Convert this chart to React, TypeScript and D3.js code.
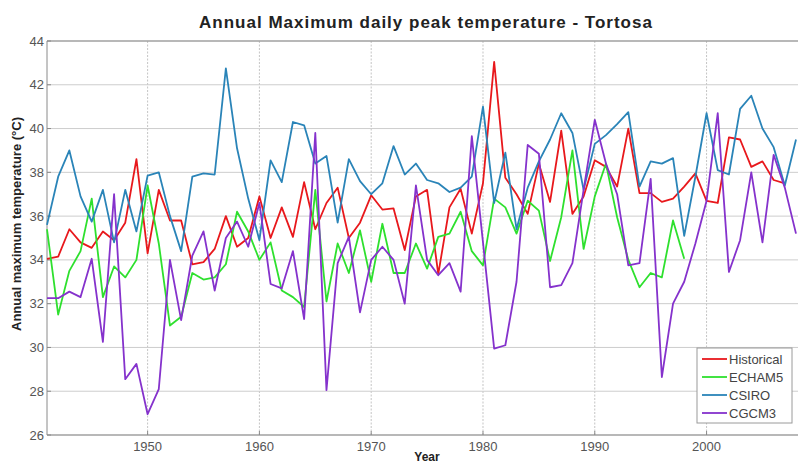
import React from 'react';
import * as d3 from 'd3';

const startYear = 1941;
const historical = [
  34.05, 34.15, 35.4, 34.8, 34.55, 35.3, 34.9, 35.7, 38.6, 34.3,
  37.2, 35.8, 35.8, 33.8, 33.9, 34.5, 36.0, 34.6, 35.0, 36.9,
  35.0, 36.4, 35.05, 37.55, 35.4, 36.6, 37.3, 35.0, 35.7, 36.95,
  36.3, 36.35, 34.45, 36.9, 37.2, 33.35, 36.4, 37.25, 35.2, 37.5,
  43.05, 37.75, 37.0, 36.1, 38.4, 36.65, 39.9, 36.1, 36.9, 38.55,
  38.25, 37.35, 40.0, 37.05, 37.05, 36.65, 36.8, 37.35, 37.95, 36.7,
  36.6, 39.6, 39.5, 38.25, 38.5, 37.65, 37.5
];
const echam5 = [
  35.4, 31.5, 33.5, 34.4, 36.8, 32.3, 33.7, 33.2, 34.0, 37.4,
  34.75, 31.0, 31.4, 33.4, 33.1, 33.2, 33.8, 36.2, 35.3, 34.0,
  34.8, 32.6, 32.3, 31.85, 37.2, 32.1, 34.75, 33.4, 35.35, 33.0,
  35.65, 33.4, 33.4, 34.75, 33.6, 35.05, 35.2, 36.2, 34.4, 33.75,
  36.8, 36.4, 35.2, 36.7, 36.25, 33.95, 35.95, 39.0, 34.5, 36.9,
  38.4, 35.95, 34.0, 32.75, 33.4, 33.2, 35.8, 34.05
];
const csiro = [
  35.6, 37.8, 39.0, 36.9, 35.75, 37.2, 34.8, 37.2, 35.3, 37.85,
  38.0, 36.0, 34.4, 37.8, 37.95, 37.9, 42.75, 39.1, 36.8, 34.9,
  38.55, 37.55, 40.3, 40.15, 38.4, 38.75, 35.7, 38.6, 37.6, 37.0,
  37.5, 39.2, 37.9, 38.4, 37.65, 37.5, 37.1, 37.3, 37.8, 41.0,
  36.6, 38.9, 35.4, 37.3, 38.5, 39.5, 40.7, 39.8, 37.2, 39.3,
  39.7, 40.2, 40.75, 37.35, 38.5, 38.4, 38.65, 35.1, 37.8, 40.7,
  38.1, 37.9, 40.9, 41.5, 40.0, 39.15, 37.4, 39.5
];
const cgcm3 = [
  32.25, 32.25, 32.55, 32.3, 34.05, 30.25, 37.0, 28.55, 29.25, 26.95,
  28.1, 34.0, 31.25, 34.2, 35.3, 32.6, 35.0, 35.75, 34.6, 36.6,
  32.9, 32.7, 34.4, 31.3, 39.8, 28.05, 33.85, 35.05, 31.6, 34.0,
  34.6, 34.0, 32.0, 37.4, 34.0, 33.3, 33.85, 32.55, 39.65, 34.8,
  29.95, 30.1, 33.0, 39.25, 38.85, 32.75, 32.85, 33.85, 37.2, 40.4,
  38.4, 37.0, 33.75, 33.85, 37.7, 28.65, 32.0, 33.0, 34.75, 36.7,
  40.7, 33.45, 34.9, 38.0, 34.8, 38.8, 37.3, 35.2
];

const seriesNames = ['Historical', 'ECHAM5', 'CSIRO', 'CGCM3'];
const seriesValues = [historical, echam5, csiro, cgcm3];
const seriesColors = ['#e8181c', '#2ee02e', '#2a84b8', '#8532cc'];
const xTicks = [1950, 1960, 1970, 1980, 1990, 2000];
const yTicks = [26, 28, 30, 32, 34, 36, 38, 40, 42, 44];

const W = 798;
const H = 463;
const font = '"Liberation Sans", Arial, sans-serif';

export default function App() {
  const x = d3.scaleLinear().domain([1941, 2008]).range([47, 796]);
  const y = d3.scaleLinear().domain([26, 44]).range([435, 41]);
  const line = d3
    .line<number>()
    .x((_, i) => x(startYear + i))
    .y(d => y(d));

  const [x0, x1] = x.range();
  const [y0, y1] = y.range();

  return (
    <svg
      width={W}
      height={H}
      style={{ position: 'absolute', left: 0, top: 0, background: '#fff' }}
      fontFamily={font}
    >
      <rect x={0} y={0} width={W} height={H} fill="#fff" />

      {/* grid */}
      {xTicks.map(t => (
        <line key={'gx' + t} x1={x(t)} x2={x(t)} y1={y1} y2={y0}
          stroke="#c4c4c4" strokeWidth={1} strokeDasharray="2,1.5" />
      ))}
      {yTicks.map(t => (
        <line key={'gy' + t} x1={x0} x2={x1 + 4} y1={y(t)} y2={y(t)}
          stroke="#cdcdcd" strokeWidth={1} />
      ))}

      {/* axes box */}
      <line x1={x0} x2={x1 + 4} y1={y1} y2={y1} stroke="#8a8a8a" />
      <line x1={x0} x2={x1 + 4} y1={y0} y2={y0} stroke="#8a8a8a" />
      <line x1={x0} x2={x0} y1={y1} y2={y0} stroke="#8a8a8a" />

      {yTicks.map(t => (
        <g key={'ty' + t}>
          <line x1={x0} x2={x0 + 4} y1={y(t)} y2={y(t)} stroke="#8a8a8a" />
          <text x={44} y={y(t)} dy="0.35em" textAnchor="end" fontSize={13} fill="#555">
            {t}
          </text>
        </g>
      ))}
      {xTicks.map(t => (
        <g key={'tx' + t}>
          <line x1={x(t)} x2={x(t)} y1={y0} y2={y0 - 4} stroke="#8a8a8a" />
          <text x={x(t)} y={451} textAnchor="middle" fontSize={13} fill="#555">
            {t}
          </text>
        </g>
      ))}

      {/* series */}
      {seriesValues.map((vals, i) => (
        <path key={seriesNames[i]} d={line(vals) ?? ''} fill="none"
          stroke={seriesColors[i]} strokeWidth={1.8} strokeLinejoin="round" />
      ))}

      {/* title & labels */}
      <text x={426} y={28} textAnchor="middle" fontSize={17} fontWeight="bold"
        letterSpacing={1} fill="#222">
        Annual Maximum daily peak temperature - Tortosa
      </text>
      <text transform="translate(21,224) rotate(-90)" textAnchor="middle"
        fontSize={13} fontWeight="bold" fill="#222">
        Annual maximum temperature (°C)
      </text>
      <text x={427} y={461} textAnchor="middle" fontSize={12} fontWeight="bold" fill="#222">
        Year
      </text>

      {/* legend */}
      <g>
        <rect x={697} y={348} width={95} height={75} fill="#fff" stroke="#9a9a9a" />
        {seriesNames.map((name, i) => (
          <g key={'lg' + name} transform={`translate(0,${359 + i * 18})`}>
            <line x1={702} x2={727} y1={0} y2={0} stroke={seriesColors[i]} strokeWidth={1.8} />
            <text x={729} y={0} dy="0.35em" fontSize={13} fill="#444">{name}</text>
          </g>
        ))}
      </g>
    </svg>
  );
}
